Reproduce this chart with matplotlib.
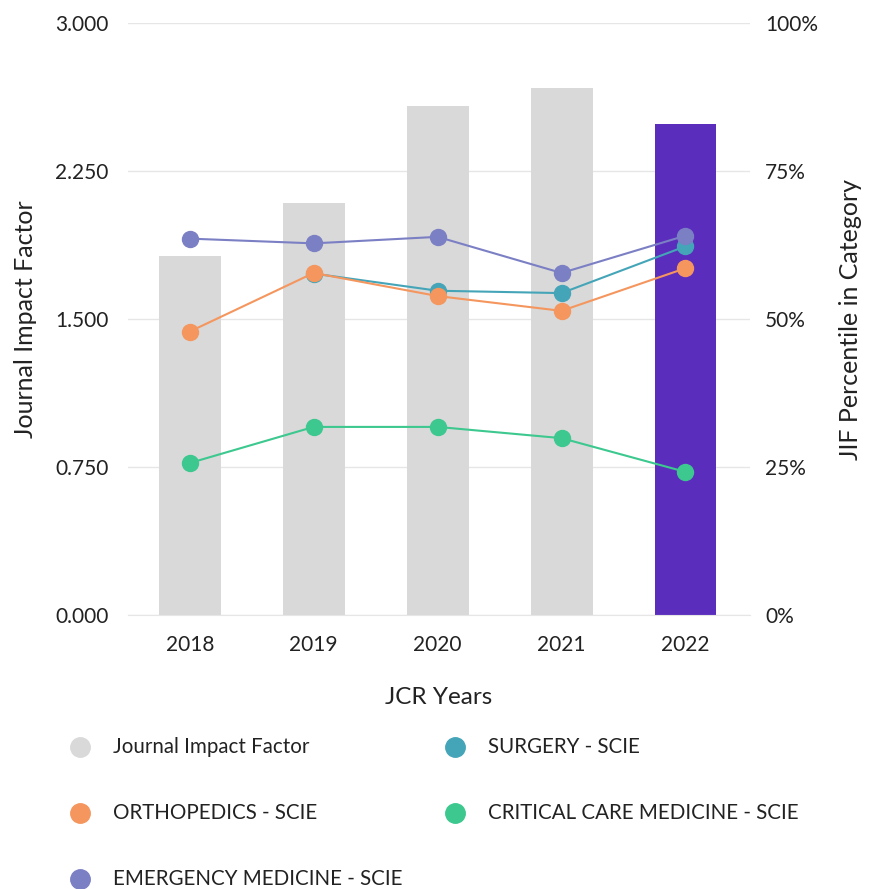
import numpy as np
import matplotlib
matplotlib.use("Agg")
import matplotlib.pyplot as plt
from matplotlib.lines import Line2D

plt.rcParams['font.family'] = ['Lato', 'DejaVu Sans']

# data
years = ['2018', '2019', '2020', '2021', '2022']
jif = [1.82, 2.09, 2.58, 2.67, 2.49]
surgery = [np.nan, 57.7, 54.8, 54.4, 62.3]
orthopedics = [47.9, 57.8, 53.9, 51.4, 58.6]
critical_care = [25.7, 31.8, 31.8, 29.9, 24.2]
emergency = [63.6, 62.8, 63.9, 57.8, 64.1]

left_ticks = [0, 0.75, 1.5, 2.25, 3.0]
right_ticks = [0, 25, 50, 75, 100]

c_bar = '#d9d9d9'
c_last = '#5b2dbd'
c_surg = '#45a5b8'
c_orth = '#f4965e'
c_crit = '#3cc88e'
c_emer = '#7b7fc4'
txt = '#222222'

fig = plt.figure(figsize=(8.69, 8.89), dpi=100)
ax = fig.add_axes([0.147, 0.308, 0.716, 0.666])
x = np.arange(len(years))
bar_colors = [c_bar] * (len(years) - 1) + [c_last]
ax.bar(x, jif, width=0.5, color=bar_colors, zorder=2)

ax.set_xlim(-0.5, 4.52)
ax.set_ylim(0, 3.0)
ax.set_yticks(left_ticks)
ax.set_yticklabels([f'{t:.3f}' for t in left_ticks])
ax.set_xticks(x)
ax.set_xticklabels(years)
ax.grid(axis='y', color='#e6e6e6', linewidth=1, zorder=0)
ax.set_axisbelow(True)
for s in ['top', 'right', 'left']:
    ax.spines[s].set_visible(False)
ax.spines['bottom'].set_color('#e6e6e6')
ax.tick_params(axis='both', length=0, labelsize=15, colors=txt)
ax.tick_params(axis='y', pad=14)
ax.tick_params(axis='x', pad=14)
ax.set_xlabel('JCR Years', fontsize=17.5, color=txt, labelpad=23)
ax.set_ylabel('Journal Impact Factor', fontsize=18, color=txt, labelpad=13)

ax2 = ax.twinx()
ax2.set_ylim(0, 100)
ax2.set_yticks(right_ticks)
ax2.set_yticklabels([f'{t}%' for t in right_ticks])
for s in ax2.spines.values():
    s.set_visible(False)
ax2.tick_params(axis='y', length=0, labelsize=15, colors=txt, pad=11)
ax2.set_ylabel('JIF Percentile in Category', fontsize=18, color=txt, labelpad=15)

kw = dict(marker='o', markersize=11.5, linewidth=1.5)
ax2.plot(x, surgery, color=c_surg, **kw)
ax2.plot(x, orthopedics, color=c_orth, **kw)
ax2.plot(x, critical_care, color=c_crit, **kw)
ax2.plot(x, emergency, color=c_emer, **kw)

# legend, laid out by hand in two columns
labels = ['Journal Impact Factor', 'SURGERY - SCIE', 'ORTHOPEDICS - SCIE',
          'CRITICAL CARE MEDICINE - SCIE', 'EMERGENCY MEDICINE - SCIE']
colors = [c_bar, c_surg, c_orth, c_crit, c_emer]
col_x = [0.092, 0.524]
row_y = [0.160, 0.0855, 0.011]
for i, (lab, c) in enumerate(zip(labels, colors)):
    mx = col_x[i % 2]
    my = row_y[i // 2]
    fig.add_artist(Line2D([mx], [my], marker='o', markersize=14, linestyle='none',
                          markerfacecolor=c, markeredgecolor=c,
                          transform=fig.transFigure))
    fig.text(mx + 0.038, my, lab, fontsize=14.8, color=txt, va='center', ha='left')

fig.savefig('out.png', dpi=100)
